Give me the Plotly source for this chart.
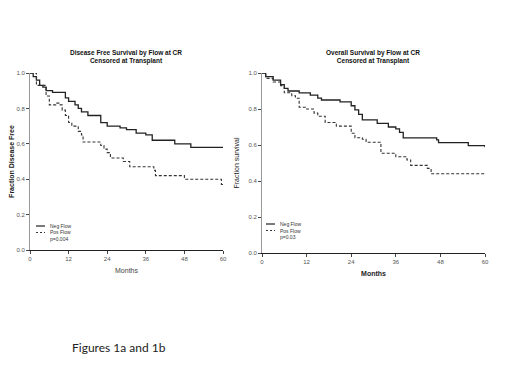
import plotly.graph_objects as go

# Disease free survival (left panel)
dfs_neg_t = [0, 1, 2, 3, 4, 5, 7, 11, 12, 14, 15, 16, 18, 22, 24, 28, 30, 33, 36, 38, 45, 50, 60]
dfs_neg_s = [1.0, 0.98, 0.96, 0.93, 0.92, 0.90, 0.89, 0.86, 0.84, 0.82, 0.80, 0.78, 0.76, 0.72, 0.70, 0.69, 0.68, 0.66, 0.65, 0.62, 0.60, 0.58, 0.58]
dfs_pos_t = [0, 2, 5, 6, 8, 9, 10, 11, 12, 13, 15, 16, 16.5, 22, 23, 24, 25, 29, 31, 38.5, 39, 48, 59.5, 60]
dfs_pos_s = [1.0, 0.93, 0.87, 0.82, 0.83, 0.82, 0.79, 0.76, 0.72, 0.70, 0.67, 0.65, 0.61, 0.59, 0.57, 0.55, 0.52, 0.50, 0.47, 0.45, 0.42, 0.40, 0.37, 0.37]

# Overall survival (right panel)
os_neg_t = [0, 1, 3, 5, 6, 7, 10, 13, 15, 16, 21, 24, 25, 26, 27, 31, 34, 36, 37, 38, 47, 47.5, 55.5, 60]
os_neg_s = [1.0, 0.98, 0.96, 0.935, 0.915, 0.90, 0.89, 0.877, 0.86, 0.85, 0.84, 0.818, 0.795, 0.77, 0.74, 0.72, 0.70, 0.69, 0.67, 0.64, 0.628, 0.613, 0.597, 0.587]
os_pos_t = [0, 1, 3, 5, 6, 8, 9, 10, 12, 14, 15, 17, 20, 24, 25, 27, 28, 32, 36, 39, 40, 44.5, 45.5, 60]
os_pos_s = [1.0, 0.97, 0.95, 0.93, 0.89, 0.874, 0.86, 0.81, 0.80, 0.777, 0.76, 0.725, 0.705, 0.665, 0.64, 0.632, 0.615, 0.554, 0.535, 0.517, 0.487, 0.47, 0.44, 0.44]

x_ticks = [0, 12, 24, 36, 48, 60]
y_ticks = [0.0, 0.2, 0.4, 0.6, 0.8, 1.0]
y_tick_labels = ["0.0", "0.2", "0.4", "0.6", "0.8", "1.0"]

titles = ["Disease Free Survival by Flow at CR<br>Censored at Transplant",
          "Overall Survival by Flow at CR<br>Censored at Transplant"]
y_titles = ["Fraction Disease Free", "Fraction survival"]
series_names = ["Neg Flow", "Pos Flow"]
p_values = ["p=0.004", "p=0.03"]

FONT = "Liberation Sans Narrow, Liberation Sans, Arial"
W, H = 520, 390
OFF = 8  # page body margin

NEG_LINE = dict(shape="hv", color="#222", width=1.3)
POS_LINE = dict(shape="hv", color="#333", width=1.1, dash="3px,2px")

fig = go.Figure()

panels = [
    (dfs_neg_t, dfs_neg_s, dfs_pos_t, dfs_pos_s, "x", "y"),
    (os_neg_t, os_neg_s, os_pos_t, os_pos_s, "x2", "y2"),
]
for nt, ns, pt, ps, xa, ya in panels:
    fig.add_trace(go.Scatter(x=nt, y=ns, mode="lines", line=NEG_LINE, name=series_names[0],
                             xaxis=xa, yaxis=ya, showlegend=False))
    fig.add_trace(go.Scatter(x=pt, y=ps, mode="lines", line=POS_LINE, name=series_names[1],
                             xaxis=xa, yaxis=ya, showlegend=False))


def px(v):
    return (v - OFF) / W


def py(v):
    return 1 - (v - OFF) / H


def dx(a, b):
    return [px(a), px(b)]


def dy(top, bottom):
    return [py(bottom), py(top)]


axis_common = dict(showgrid=False, zeroline=False, ticks="outside", ticklen=3, tickwidth=1, automargin=False,
                   tickfont=dict(family=FONT, size=6, color="#555"), showline=True)

fig.update_layout(
    width=W, height=H, margin=dict(l=0, r=0, t=0, b=0, autoexpand=False),
    paper_bgcolor="white", plot_bgcolor="white", showlegend=False,
    font=dict(family=FONT, color="#222"),
    xaxis=dict(domain=dx(30, 223), range=[0, 60], tickvals=x_ticks, linecolor="#222", anchor="y",
               title=dict(text="Months", font=dict(size=7, family=FONT, color="#444"), standoff=6), **axis_common),
    yaxis=dict(domain=dy(73, 250), range=[0, 1.0], tickvals=y_ticks, ticktext=y_tick_labels, linecolor="#999",
               anchor="x", title=dict(text="<b>" + y_titles[0] + "</b>", font=dict(size=7, family=FONT), standoff=8),
               **axis_common),
    xaxis2=dict(domain=dx(262, 485), range=[0, 60], tickvals=x_ticks, linecolor="#222", anchor="y2",
                title=dict(text="<b>Months</b>", font=dict(size=7, family=FONT), standoff=6), **axis_common),
    yaxis2=dict(domain=dy(73, 253), range=[0, 1.0], tickvals=y_ticks, ticktext=y_tick_labels, linecolor="#999",
                anchor="x2", title=dict(text=y_titles[1], font=dict(size=7, family=FONT), standoff=8),
                **axis_common),
)

# titles
fig.add_annotation(x=px(126), y=py(57), xref="paper", yref="paper", text="<b>" + titles[0] + "</b>",
                   showarrow=False, xanchor="center", yanchor="middle",
                   font=dict(size=6.5, family=FONT, color="#111"))
fig.add_annotation(x=px(373), y=py(57), xref="paper", yref="paper", text="<b>" + titles[1] + "</b>",
                   showarrow=False, xanchor="center", yanchor="middle",
                   font=dict(size=6.5, family=FONT, color="#111"))

# legends (drawn manually, compact)
for (lx, ly), pv in zip([(36, 226), (266, 224)], p_values):
    fig.add_shape(type="line", xref="paper", yref="paper", x0=px(lx), x1=px(lx + 9), y0=py(ly), y1=py(ly),
                  line=dict(color="#222", width=1.2))
    fig.add_shape(type="line", xref="paper", yref="paper", x0=px(lx), x1=px(lx + 9), y0=py(ly + 6.5), y1=py(ly + 6.5),
                  line=dict(color="#333", width=1, dash="2px,2px"))
    fig.add_annotation(x=px(lx + 12), y=py(ly), xref="paper", yref="paper", text=series_names[0],
                       showarrow=False, xanchor="left", yanchor="middle", font=dict(size=5, family=FONT, color="#333"))
    fig.add_annotation(x=px(lx + 12), y=py(ly + 6.5), xref="paper", yref="paper", text=series_names[1],
                       showarrow=False, xanchor="left", yanchor="middle", font=dict(size=5, family=FONT, color="#333"))
    fig.add_annotation(x=px(lx + 12), y=py(ly + 13), xref="paper", yref="paper", text=pv,
                       showarrow=False, xanchor="left", yanchor="middle", font=dict(size=5, family=FONT, color="#333"))

fig.add_annotation(x=px(70), y=py(347), xref="paper", yref="paper", text="Figures 1a and 1b",
                   showarrow=False, xanchor="left", yanchor="middle",
                   font=dict(size=12, family="Lato, Open Sans", color="#222"))

fig.write_html("out.html")
